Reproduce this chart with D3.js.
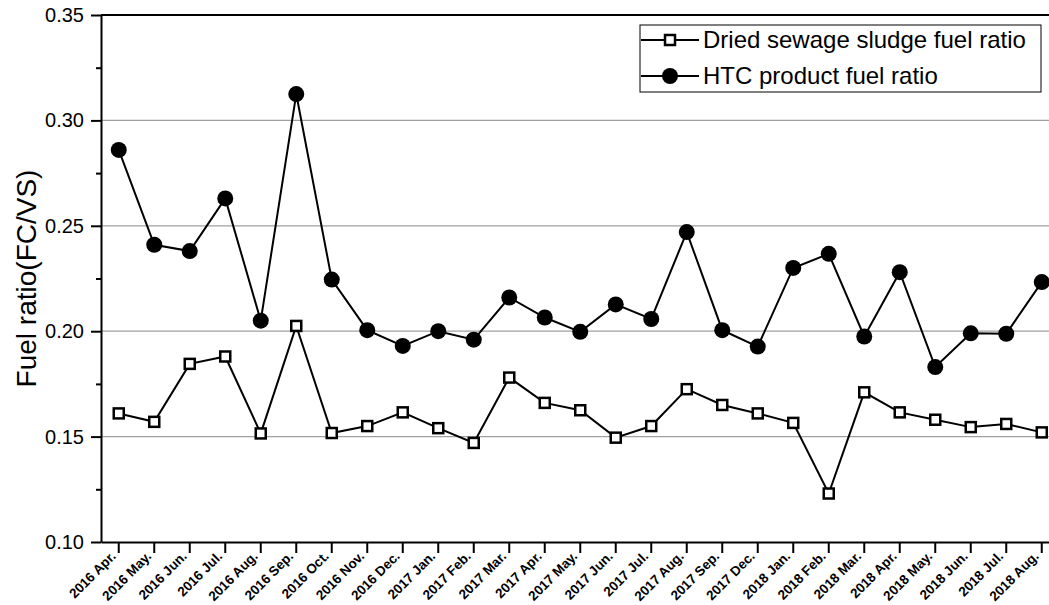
<!DOCTYPE html>
<html>
<head>
<meta charset="utf-8">
<script src="https://cdn.jsdelivr.net/npm/d3@7"></script>
<style>
  html, body { margin: 0; padding: 0; background: #fff; }
  svg { display: block; font-family: "Liberation Sans", Arial, Helvetica, sans-serif; }
</style>
</head>
<body>
<svg id="chart" width="1049" height="605"></svg>
<script>
// Sampling months (category axis)
const months = [
  "2016 Apr.", "2016 May.", "2016 Jun.", "2016 Jul.", "2016 Aug.", "2016 Sep.",
  "2016 Oct.", "2016 Nov.", "2016 Dec.", "2017 Jan.", "2017 Feb.", "2017 Mar.",
  "2017 Apr.", "2017 May.", "2017 Jun.", "2017 Jul.", "2017 Aug.", "2017 Sep.",
  "2017 Dec.", "2018 Jan.", "2018 Feb.", "2018 Mar.", "2018 Apr.", "2018 May.",
  "2018 Jun.", "2018 Jul.", "2018 Aug."
];

// Fuel ratio (FC/VS) of dried sewage sludge
const sludgeRatio = [
  0.161, 0.157, 0.1845, 0.188, 0.1515, 0.2025,
  0.1517, 0.155, 0.1615, 0.154, 0.147, 0.178,
  0.166, 0.1625, 0.1495, 0.155, 0.1725, 0.165,
  0.161, 0.1565, 0.123, 0.171, 0.1615, 0.158,
  0.1545, 0.156, 0.152
];

// Fuel ratio (FC/VS) of the HTC product
const htcRatio = [
  0.286, 0.241, 0.238, 0.263, 0.205, 0.3125,
  0.2245, 0.2005, 0.193, 0.200, 0.196, 0.216,
  0.2065, 0.1997, 0.2127, 0.2058, 0.247, 0.2005,
  0.1927, 0.230, 0.2367, 0.1975, 0.228, 0.183,
  0.199, 0.1988, 0.2233
];

const yMajorTicks = [0.10, 0.15, 0.20, 0.25, 0.30, 0.35];
const yMinorTicks = [0.125, 0.175, 0.225, 0.275, 0.325];
const gridValues = [0.15, 0.20, 0.25, 0.30];

const legendLabels = ["Dried sewage sludge fuel ratio", "HTC product fuel ratio"];

const svg = d3.select("#chart");
const plot = { left: 101, top: 15, right: 1059.5, bottom: 542 };

const x = d3.scaleBand().domain(months).range([plot.left, plot.right]).padding(0);
const cx = d => x(d) + x.bandwidth() / 2;
const y = d3.scaleLinear().domain([0.10, 0.35]).range([plot.bottom, plot.top]);

// horizontal grid lines
svg.append("g")
  .selectAll("line")
  .data(gridValues)
  .join("line")
  .attr("x1", plot.left).attr("x2", plot.right)
  .attr("y1", d => y(d)).attr("y2", d => y(d))
  .attr("stroke", "#a0a0a0").attr("stroke-width", 1.2);

// top frame line
svg.append("line")
  .attr("x1", plot.left).attr("x2", plot.right)
  .attr("y1", plot.top).attr("y2", plot.top)
  .attr("stroke", "#000").attr("stroke-width", 2);

// y axis: major ticks with labels
const yAxis = svg.append("g")
  .attr("transform", `translate(${plot.left},0)`)
  .call(d3.axisLeft(y).tickValues(yMajorTicks).tickFormat(d3.format(".2f"))
    .tickSize(10).tickPadding(7).tickSizeOuter(0));
yAxis.select(".domain").attr("stroke-width", 2);
yAxis.selectAll(".tick line").attr("stroke-width", 2);
yAxis.selectAll(".tick text").attr("font-size", 20).attr("fill", "#000");

// y axis: minor ticks
svg.append("g")
  .attr("transform", `translate(${plot.left},0)`)
  .call(d3.axisLeft(y).tickValues(yMinorTicks).tickFormat("").tickSize(5).tickSizeOuter(0))
  .call(g => g.select(".domain").remove())
  .selectAll(".tick line").attr("stroke-width", 2);

// x axis
const xAxis = svg.append("g")
  .attr("transform", `translate(0,${plot.bottom})`)
  .call(d3.axisBottom(x).tickSize(11).tickSizeOuter(0));
xAxis.select(".domain").attr("stroke-width", 2);
xAxis.selectAll(".tick line").attr("stroke-width", 2);
xAxis.selectAll(".tick text")
  .attr("font-size", 13.5).attr("font-weight", "bold").attr("fill", "#000")
  .attr("text-anchor", "end")
  .attr("y", 0).attr("dy", 0)
  .attr("transform", "translate(-2,15) rotate(-45)");

// y axis title
svg.append("text")
  .attr("transform", `translate(36,${(plot.top + plot.bottom) / 2}) rotate(-90)`)
  .attr("text-anchor", "middle")
  .attr("font-size", 28)
  .text("Fuel ratio(FC/VS)");

const line = d3.line().x((d, i) => cx(months[i])).y(d => y(d));

// HTC product series
svg.append("path")
  .datum(htcRatio)
  .attr("d", line)
  .attr("fill", "none").attr("stroke", "#000").attr("stroke-width", 2);
svg.append("g")
  .selectAll("circle")
  .data(htcRatio)
  .join("circle")
  .attr("cx", (d, i) => cx(months[i]))
  .attr("cy", d => y(d))
  .attr("r", 8)
  .attr("fill", "#000");

// dried sewage sludge series
svg.append("path")
  .datum(sludgeRatio)
  .attr("d", line)
  .attr("fill", "none").attr("stroke", "#000").attr("stroke-width", 2);
svg.append("g")
  .selectAll("rect")
  .data(sludgeRatio)
  .join("rect")
  .attr("x", (d, i) => cx(months[i]) - 5)
  .attr("y", d => y(d) - 5)
  .attr("width", 10).attr("height", 10)
  .attr("fill", "#fff").attr("stroke", "#000").attr("stroke-width", 2.5);

// legend
const legend = svg.append("g").attr("transform", "translate(640,25)");
legend.append("rect")
  .attr("x", 0).attr("y", 0).attr("width", 401).attr("height", 67)
  .attr("fill", "#fff").attr("stroke", "#000").attr("stroke-width", 1);

const rows = legend.selectAll("g.row")
  .data(legendLabels)
  .join("g")
  .attr("class", "row")
  .attr("transform", (d, i) => `translate(0,${15 + i * 36})`);
rows.append("line")
  .attr("x1", 1).attr("x2", 59).attr("y1", 0).attr("y2", 0)
  .attr("stroke", "#000").attr("stroke-width", 2);
rows.filter((d, i) => i === 0).append("rect")
  .attr("x", 25).attr("y", -5).attr("width", 10).attr("height", 10)
  .attr("fill", "#fff").attr("stroke", "#000").attr("stroke-width", 2.5);
rows.filter((d, i) => i === 1).append("circle")
  .attr("cx", 30).attr("cy", 0).attr("r", 8).attr("fill", "#000");
rows.append("text")
  .attr("x", 63).attr("y", 0).attr("dy", "0.35em")
  .attr("font-size", 24)
  .text(d => d);
</script>
</body>
</html>
